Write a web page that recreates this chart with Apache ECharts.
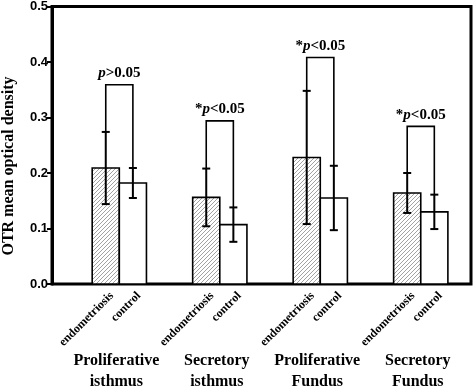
<!DOCTYPE html>
<html>
<head>
<meta charset="utf-8">
<title>OTR optical density</title>
<script src="https://cdn.jsdelivr.net/npm/echarts@6/dist/echarts.min.js"></script>
<style>
  body { margin: 0; background: #fff; }
  #chart { width: 474px; height: 387px; }
</style>
</head>
<body>
<div id="chart"></div>
<script>
// data
var groups = ['Proliferative\nisthmus', 'Secretory\nisthmus', 'Proliferative\nFundus', 'Secretory\nFundus'];
var barNames = ['endometriosis', 'control'];
var endoMean = [0.209, 0.156, 0.228, 0.164];
var endoSD = [0.065, 0.052, 0.120, 0.036];
var ctrlMean = [0.182, 0.107, 0.155, 0.130];
var ctrlSD = [0.027, 0.031, 0.058, 0.031];
var bracketTop = [0.359, 0.294, 0.408, 0.284];
var pLabels = ['p>0.05', '*p<0.05', '*p<0.05', '*p<0.05'];
var yTicks = [0, 0.1, 0.2, 0.3, 0.4, 0.5];

var serif = "'Liberation Serif', 'Times New Roman', serif";
var sans = "'Liberation Sans', Arial, sans-serif";

// hatch tile for the endometriosis bars
var tile = document.createElement('canvas');
tile.width = 4; tile.height = 4;
var ctx = tile.getContext('2d');
ctx.fillStyle = '#fff';
ctx.fillRect(0, 0, 4, 4);
ctx.strokeStyle = '#8a8a8a';
ctx.lineWidth = 0.8;
ctx.beginPath();
ctx.moveTo(-1, 5); ctx.lineTo(5, -1);
ctx.stroke();

var data = groups.map(function (g, i) {
  return [i + 1, endoMean[i], endoSD[i], ctrlMean[i], ctrlSD[i], bracketTop[i]];
});

var barW = 0.27; // in x units

function renderItem(params, api) {
  var i = params.dataIndex;
  var gx = api.value(0);
  var base = api.coord([gx, 0]);
  var cx = base[0], y0 = base[1];
  var bw = api.size([barW, 0])[0];
  var ex = cx - bw / 2, kx = cx + bw / 2;
  var eTop = api.coord([gx, api.value(1)])[1];
  var kTop = api.coord([gx, api.value(3)])[1];
  var eHi = api.coord([gx, api.value(1) + api.value(2)])[1];
  var eLo = api.coord([gx, api.value(1) - api.value(2)])[1];
  var kHi = api.coord([gx, api.value(3) + api.value(4)])[1];
  var kLo = api.coord([gx, api.value(3) - api.value(4)])[1];
  var br = api.coord([gx, api.value(5)])[1];
  var cap = 4;
  var errStyle = { stroke: '#000', lineWidth: 2 };

  function errBar(x, hi, lo) {
    return [
      { type: 'line', shape: { x1: x, y1: hi, x2: x, y2: lo }, style: errStyle },
      { type: 'line', shape: { x1: x - cap, y1: hi, x2: x + cap, y2: hi }, style: errStyle },
      { type: 'line', shape: { x1: x - cap, y1: lo, x2: x + cap, y2: lo }, style: errStyle }
    ];
  }

  var children = [
    { type: 'rect', shape: { x: cx - bw, y: eTop, width: bw, height: y0 - eTop },
      style: { fill: { image: tile, repeat: 'repeat' }, stroke: '#000', lineWidth: 1.6 } },
    { type: 'rect', shape: { x: cx, y: kTop, width: bw, height: y0 - kTop },
      style: { fill: '#fff', stroke: '#000', lineWidth: 1.6 } }
  ];
  children = children.concat(errBar(ex, eHi, eLo), errBar(kx, kHi, kLo));
  children.push({
    type: 'polyline',
    shape: { points: [[ex, eHi], [ex, br], [kx, br], [kx, kHi]] },
    style: { fill: null, stroke: '#000', lineWidth: 1.6 }
  });
  children.push({
    type: 'text', x: cx, y: br - 4,
    style: {
      text: pLabels[i].replace('p', '{i|p}'),
      align: 'center', verticalAlign: 'bottom',
      font: 'bold 15px ' + serif, fill: '#000',
      rich: { i: { fontStyle: 'italic', fontWeight: 'bold', fontSize: 15, fontFamily: serif } }
    }
  });
  [ex, kx].forEach(function (x, k) {
    children.push({
      type: 'text', x: x + 6, y: y0 + 10, rotation: Math.PI / 4,
      style: { text: barNames[k], align: 'right', verticalAlign: 'middle',
               font: 'bold 12px ' + serif, fill: '#000' }
    });
  });
  children.push({
    type: 'text', x: cx - 3, y: y0 + 66,
    style: { text: groups[i], align: 'center', verticalAlign: 'top',
             font: 'bold 16px ' + serif, fill: '#000', lineHeight: 21 }
  });
  return { type: 'group', children: children };
}

var chart = echarts.init(document.getElementById('chart'), null, { renderer: 'canvas' });
chart.setOption({
  animation: false,
  grid: { left: 52, right: 3, top: 6, bottom: 103, show: true, borderColor: '#000', borderWidth: 3 },
  xAxis: {
    type: 'value', min: 0.33, max: 4.5,
    axisLine: { show: true, lineStyle: { color: '#000', width: 2 } },
    axisTick: { show: false }, axisLabel: { show: false }, splitLine: { show: false }
  },
  yAxis: {
    type: 'value', min: yTicks[0], max: yTicks[yTicks.length - 1], interval: 0.1,
    axisLine: { show: true, lineStyle: { color: '#000', width: 3 } },
    axisTick: { show: true, length: 5, lineStyle: { color: '#000', width: 2 } },
    axisLabel: { color: '#000', fontWeight: 'bold', fontSize: 13, fontFamily: sans, margin: 4,
                 formatter: function (v) { return v.toFixed(1); } },
    splitLine: { show: false }
  },
  graphic: [{
    type: 'text', x: 9, y: 166, rotation: Math.PI / 2,
    style: { text: 'OTR mean optical density', align: 'center', verticalAlign: 'middle',
             font: 'bold 16px ' + serif, fill: '#000' }
  }],
  series: [{
    type: 'custom',
    renderItem: renderItem,
    data: data,
    clip: false
  }]
});
</script>
</body>
</html>
